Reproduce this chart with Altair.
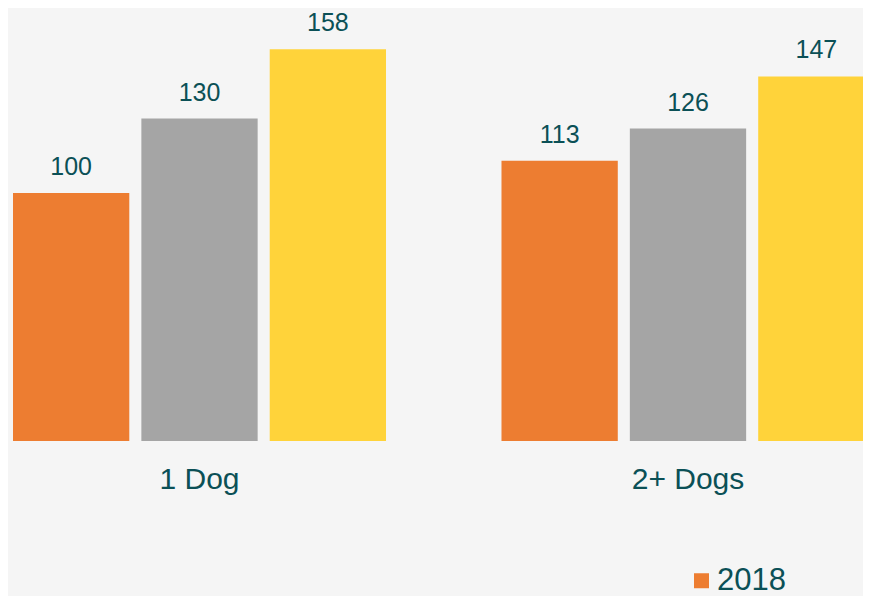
import altair as alt
import pandas as pd

categories = ["1 Dog", "2+ Dogs"]
years = ["2018", "2019", "2020"]
values_2018 = [100, 113]
values_2019 = [130, 126]
values_2020 = [158, 147]

colors = ["#ED7D31", "#A5A5A5", "#FFD33A"]
text_color = "#0B5056"
font = "Liberation Sans"

rows = []
for i, c in enumerate(categories):
    for y, vals in zip(years, [values_2018, values_2019, values_2020]):
        rows.append({"category": c, "year": y, "value": vals[i]})
df = pd.DataFrame(rows)
cat_df = pd.DataFrame({"category": categories})

x_scale = alt.Scale(domain=categories, range=[5, 866.5], paddingInner=0.2364, paddingOuter=0)
y_scale = alt.Scale(domain=[0, 174.6], range=[433, 0], nice=False, zero=True)
color_scale = alt.Scale(domain=years, range=colors)

base = alt.Chart(df).encode(
    x=alt.X("category:N", scale=x_scale, axis=None, sort=categories),
    xOffset=alt.XOffset("year:N", sort=years, scale=alt.Scale(paddingInner=0.094, paddingOuter=0)),
    y=alt.Y("value:Q", scale=y_scale, axis=None),
)

bars = base.mark_bar().encode(
    color=alt.Color(
        "year:N",
        scale=color_scale,
        sort=years,
        legend=alt.Legend(
            title=None,
            orient="none",
            direction="horizontal",
            legendX=678,
            legendY=557,
            symbolType="square",
            symbolSize=225,
            symbolStrokeWidth=0,
            labelFontSize=31,
            labelFont=font,
            labelColor=text_color,
            labelOffset=0,
            columnPadding=120,
            padding=0,
        ),
    )
)

labels = base.mark_text(
    baseline="alphabetic", dy=-18, fontSize=25, font=font, color=text_color
).encode(text=alt.Text("value:Q"))

cat_labels = alt.Chart(cat_df).mark_text(
    baseline="alphabetic", fontSize=30, font=font, color=text_color
).encode(
    x=alt.X("category:N", scale=x_scale, axis=None, sort=categories),
    y=alt.value(481),
    text="category:N",
)

chart = alt.layer(bars, labels, cat_labels).properties(
    width=855,
    height=588,
    autosize=alt.AutoSizeParams(type="none"),
    padding=0,
    background="#f5f5f5",
).configure_view(stroke=None)

chart.save("out.html", embed_options={"renderer": "svg", "actions": False})
